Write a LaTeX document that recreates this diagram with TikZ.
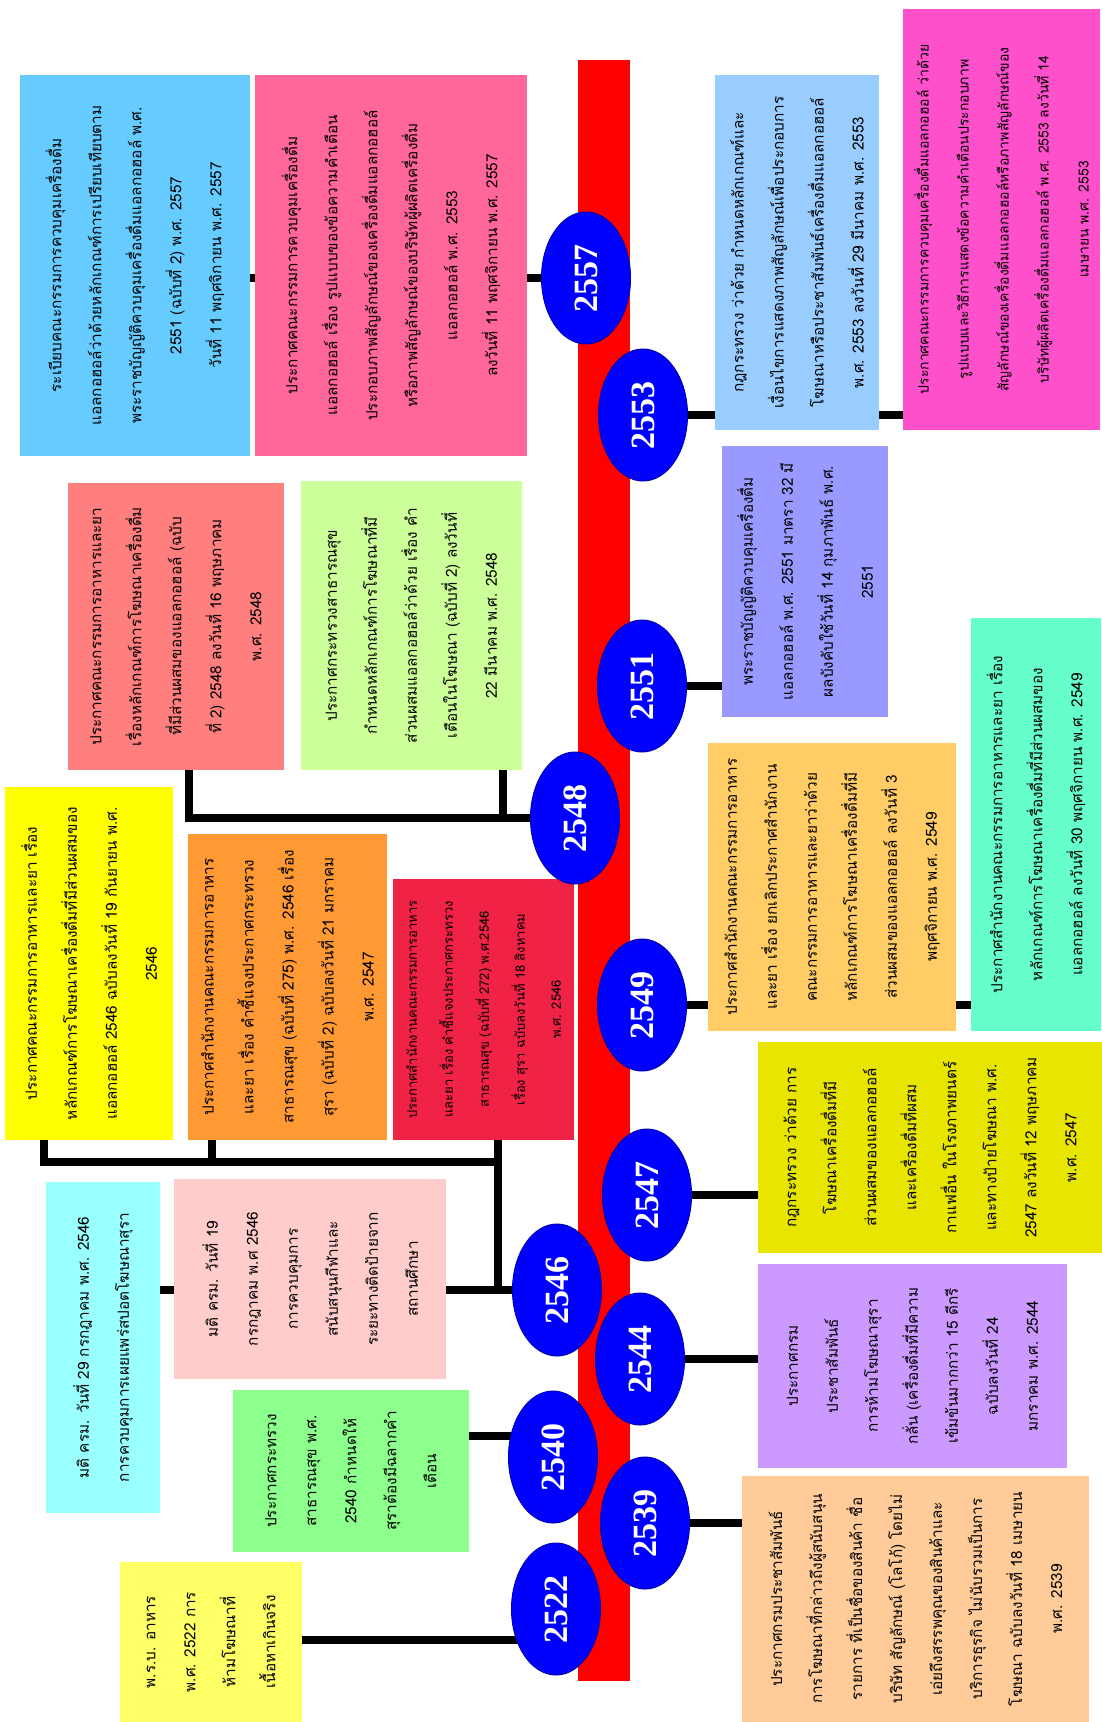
\documentclass[tikz,border=0pt]{standalone}
\usepackage{fontspec}
\setmainfont{Liberation Serif}
\newfontfamily\thaifont[Script=Thai]{Loma}
\usetikzlibrary{shapes.geometric,backgrounds}
\definecolor{cA}{HTML}{66CCFF}
\definecolor{cB}{HTML}{FF6699}
\definecolor{cC}{HTML}{99CCFF}
\definecolor{cD}{HTML}{FF50CC}
\definecolor{cE}{HTML}{FF7F7F}
\definecolor{cF}{HTML}{CCFF99}
\definecolor{cG}{HTML}{9999FF}
\definecolor{cH}{HTML}{FFFF00}
\definecolor{cI}{HTML}{FF9933}
\definecolor{cJ}{HTML}{F02346}
\definecolor{cK}{HTML}{FFCC66}
\definecolor{cL}{HTML}{66FFCC}
\definecolor{cM}{HTML}{E8E600}
\definecolor{cN}{HTML}{99FFFF}
\definecolor{cO}{HTML}{FFCCCC}
\definecolor{cP}{HTML}{8CFF8C}
\definecolor{cQ}{HTML}{CC99FF}
\definecolor{cR}{HTML}{FFFF66}
\definecolor{cS}{HTML}{FFCC99}
\definecolor{yblue}{HTML}{0000FF}
\definecolor{barred}{HTML}{FF0000}
\tikzset{
  conn/.style={line width=8pt, black, line join=miter},
  yearnode/.style={ellipse, fill=yblue, draw=yblue!70!black, line width=1pt,
    minimum width=132pt, minimum height=89pt, inner sep=0pt, rotate=90,
    text=white, font=\fontsize{34}{34}\selectfont\bfseries},
  infobox/.style n args={2}{rectangle, inner sep=0pt, rotate=90, align=center,
    minimum width=#1, minimum height=#2,
    font=\thaifont\fontsize{15.3}{40}\selectfont},
  smallthai/.style={font=\thaifont\fontsize{13}{36}\selectfont},
  narrowthai/.style={font=\thaifont\fontsize{14}{40}\selectfont},
}
\begin{document}
\begin{tikzpicture}[x=1pt,y=-1pt]
\useasboundingbox (0,0) rectangle (1102,1722);
\begin{pgfonlayer}{background}
\fill[white] (0,0) rectangle (1102,1722);
\fill[barred] (578,60) rectangle (630,1681);
\end{pgfonlayer}

% boxes (minimum width = vertical extent, minimum height = horizontal extent)
\node[infobox={381pt}{230pt}, fill=cA] (b1) at (135,265.5) {ระเบียบคณะกรรมการควบคุมเครื่องดื่ม\\แอลกอฮอล์ว่าด้วยหลักเกณฑ์การเปรียบเทียบตาม\\พระราชบัญญัติควบคุมเครื่องดื่มแอลกอฮอล์ พ.ศ.\\2551 (ฉบับที่ 2) พ.ศ. 2557\\วันที่ 11 พฤศจิกายน พ.ศ. 2557};
\node[infobox={381pt}{272pt}, fill=cB] (b2) at (391,265.5) {ประกาศคณะกรรมการควบคุมเครื่องดื่ม\\แอลกอฮอล์ เรื่อง รูปแบบของข้อความคำเตือน\\ประกอบภาพสัญลักษณ์ของเครื่องดื่มแอลกอฮอล์\\หรือภาพสัญลักษณ์ของบริษัทผู้ผลิตเครื่องดื่ม\\แอลกอฮอล์ พ.ศ. 2553\\ลงวันที่ 11 พฤศจิกายน พ.ศ. 2557};
\node[infobox={355pt}{164pt}, fill=cC] (b3) at (797,252.5) {กฎกระทรวง ว่าด้วย กำหนดหลักเกณฑ์และ\\เงื่อนไขการแสดงภาพสัญลักษณ์เพื่อประกอบการ\\โฆษณาหรือประชาสัมพันธ์เครื่องดื่มแอลกอฮอล์\\พ.ศ. 2553 ลงวันที่ 29 มีนาคม พ.ศ. 2553};
\node[infobox={421pt}{197pt}, fill=cD, narrowthai] (b4) at (1001.5,219.5) {ประกาศคณะกรรมการควบคุมเครื่องดื่มแอลกอฮอล์ ว่าด้วย\\รูปแบบและวิธีการแสดงข้อความคำเตือนประกอบภาพ\\สัญลักษณ์ของเครื่องดื่มแอลกอฮอล์หรือภาพสัญลักษณ์ของ\\บริษัทผู้ผลิตเครื่องดื่มแอลกอฮอล์ พ.ศ. 2553 ลงวันที่ 14\\เมษายน พ.ศ. 2553};
\node[infobox={287pt}{216pt}, fill=cE] (b5) at (176,626.5) {ประกาศคณะกรรมการอาหารและยา\\เรื่องหลักเกณฑ์การโฆษณาเครื่องดื่ม\\ที่มีส่วนผสมของแอลกอฮอล์ (ฉบับ\\ที่ 2) 2548 ลงวันที่ 16 พฤษภาคม\\พ.ศ. 2548};
\node[infobox={289pt}{221pt}, fill=cF] (b6) at (411.5,625.5) {ประกาศกระทรวงสาธารณสุข\\กำหนดหลักเกณฑ์การโฆษณาที่มี\\ส่วนผสมแอลกอฮอล์ว่าด้วย เรื่อง คำ\\เตือนในโฆษณา (ฉบับที่ 2) ลงวันที่\\22 มีนาคม พ.ศ. 2548};
\node[infobox={271pt}{166pt}, fill=cG] (b7) at (805,581.5) {พระราชบัญญัติควบคุมเครื่องดื่ม\\แอลกอฮอล์ พ.ศ. 2551 มาตรา 32 มี\\ผลบังคับใช้วันที่ 14 กุมภาพันธ์ พ.ศ.\\2551};
\node[infobox={353pt}{168pt}, fill=cH] (b8) at (89,963.5) {ประกาศคณะกรรมการอาหารและยา เรื่อง\\หลักเกณฑ์การโฆษณาเครื่องดื่มที่มีส่วนผสมของ\\แอลกอฮอล์ 2546 ฉบับลงวันที่ 19 กันยายน พ.ศ.\\2546};
\node[infobox={306pt}{199pt}, fill=cI] (b9) at (287.5,987) {ประกาศสำนักงานคณะกรรมการอาหาร\\และยา เรื่อง คำชี้แจงประกาศกระทรวง\\สาธารณสุข (ฉบับที่ 275) พ.ศ. 2546 เรื่อง\\สุรา (ฉบับที่ 2) ฉบับลงวันที่ 21 มกราคม\\พ.ศ. 2547};
\node[infobox={261pt}{181pt}, fill=cJ, smallthai] (b10) at (483.5,1009.5) {ประกาศสำนักงานคณะกรรมการอาหาร\\และยา เรื่อง คำชี้แจงประกาศกระทรวง\\สาธารณสุข (ฉบับที่ 272) พ.ศ.2546\\เรื่อง สุรา ฉบับลงวันที่ 18 สิงหาคม\\พ.ศ. 2546};
\node[infobox={288pt}{248pt}, fill=cK] (b11) at (832,887) {ประกาศสำนักงานคณะกรรมการอาหาร\\และยา เรื่อง ยกเลิกประกาศสำนักงาน\\คณะกรรมการอาหารและยาว่าด้วย\\หลักเกณฑ์การโฆษณาเครื่องดื่มที่มี\\ส่วนผสมของแอลกอฮอล์ ลงวันที่ 3\\พฤศจิกายน พ.ศ. 2549};
\node[infobox={413pt}{130pt}, fill=cL] (b12) at (1036,824.5) {ประกาศสำนักงานคณะกรรมการอาหารและยา เรื่อง\\หลักเกณฑ์การโฆษณาเครื่องดื่มที่มีส่วนผสมของ\\แอลกอฮอล์ ลงวันที่ 30 พฤศจิกายน พ.ศ. 2549};
\node[infobox={211pt}{344pt}, fill=cM] (b13) at (930,1147.5) {กฎกระทรวง ว่าด้วย การ\\โฆษณาเครื่องดื่มที่มี\\ส่วนผสมของแอลกอฮอล์\\และเครื่องดื่มที่ผสม\\กาแฟอื่น ในโรงภาพยนตร์\\และทางป้ายโฆษณา พ.ศ.\\2547 ลงวันที่ 12 พฤษภาคม\\พ.ศ. 2547};
\node[infobox={331pt}{114pt}, fill=cN] (b14) at (103,1347.5) {มติ ครม. วันที่ 29 กรกฎาคม พ.ศ. 2546\\การควบคุมการเผยแพร่สปอตโฆษณาสุรา};
\node[infobox={200pt}{272pt}, fill=cO] (b15) at (310,1279) {มติ ครม. วันที่ 19\\กรกฎาคม พ.ศ 2546\\การควบคุมการ\\สนับสนุนกีฬาและ\\ระยะทางติดป้ายจาก\\สถานศึกษา};
\node[infobox={162pt}{236pt}, fill=cP] (b16) at (351,1471) {ประกาศกระทรวง\\สาธารณสุข พ.ศ.\\2540 กำหนดให้\\สุราต้องมีฉลากคำ\\เตือน};
\node[infobox={204pt}{309pt}, fill=cQ] (b17) at (912.5,1366) {ประกาศกรม\\ประชาสัมพันธ์\\การห้ามโฆษณาสุรา\\กลั่น (เครื่องดื่มที่มีความ\\เข้มข้นมากกว่า 15 ดีกรี\\ฉบับลงวันที่ 24\\มกราคม พ.ศ. 2544};
\node[infobox={160pt}{182pt}, fill=cR] (b18) at (211,1642) {พ.ร.บ. อาหาร\\พ.ศ. 2522 การ\\ห้ามโฆษณาที่\\เนื้อหาเกินจริง};
\node[infobox={246pt}{347pt}, fill=cS] (b19) at (915.5,1599) {ประกาศกรมประชาสัมพันธ์\\การโฆษณาที่กล่าวถึงผู้สนับสนุน\\รายการ ที่เป็นชื่อของสินค้า ชื่อ\\บริษัท สัญลักษณ์ (โลโก้) โดยไม่\\เอ่ยถึงสรรพคุณของสินค้าและ\\บริการธุรกิจ ไม่นับรวมเป็นการ\\โฆษณา ฉบับลงวันที่ 18 เมษายน\\พ.ศ. 2539};

% year ellipses
\node[yearnode] (y2557) at (586,278) {2557};
\node[yearnode] (y2553) at (643,415) {2553};
\node[yearnode] (y2551) at (642,686) {2551};
\node[yearnode] (y2548) at (575,818) {2548};
\node[yearnode] (y2549) at (642,1005) {2549};
\node[yearnode] (y2547) at (647,1195) {2547};
\node[yearnode] (y2546) at (557,1290) {2546};
\node[yearnode] (y2544) at (640,1359) {2544};
\node[yearnode] (y2540) at (553,1457) {2540};
\node[yearnode] (y2539) at (645,1523) {2539};
\node[yearnode] (y2522) at (556,1609) {2522};

\coordinate (j1) at (189,818);
\coordinate (j2) at (503,818);
\coordinate (h1) at (44,1162);
\coordinate (h2) at (212,1162);
\coordinate (h3) at (498,1162);
\coordinate (c40) at (480,1436);
\coordinate (c22) at (320,1640);

\begin{pgfonlayer}{background}
\draw[conn] (b1.center |- y2557.center) -- (y2557.center);
\draw[conn] (y2553.center) -- (b4.center |- y2553.center);
\draw[conn] (y2551.center) -- (b7.center |- y2551.center);
\draw[conn] (j1 |- b5.west) -- (j1) -- (y2548.center);
\draw[conn] (j2 |- b6.west) -- (j2);
\draw[conn] (y2549.center) -- (b12.center |- y2549.center);
\draw[conn] (y2547.center) -- (b13.center |- y2547.center);
\draw[conn] (h1 |- b8.west) -- (h1) -- (h3);
\draw[conn] (h2 |- b9.west) -- (h2);
\draw[conn] (h3 |- b10.west) -- (h3 |- y2546.center);
\draw[conn] (b14.center |- y2546.center) -- (y2546.center);
\draw[conn] (y2544.center) -- (b17.center |- y2544.center);
\draw[conn] (y2539.center) -- (b19.center |- y2539.center);
\draw[conn] (b16.center |- c40) -- (y2540.center |- c40);
\draw[conn] (b18.center |- c22) -- (y2522.center |- c22);
\end{pgfonlayer}
\end{tikzpicture}
\end{document}
